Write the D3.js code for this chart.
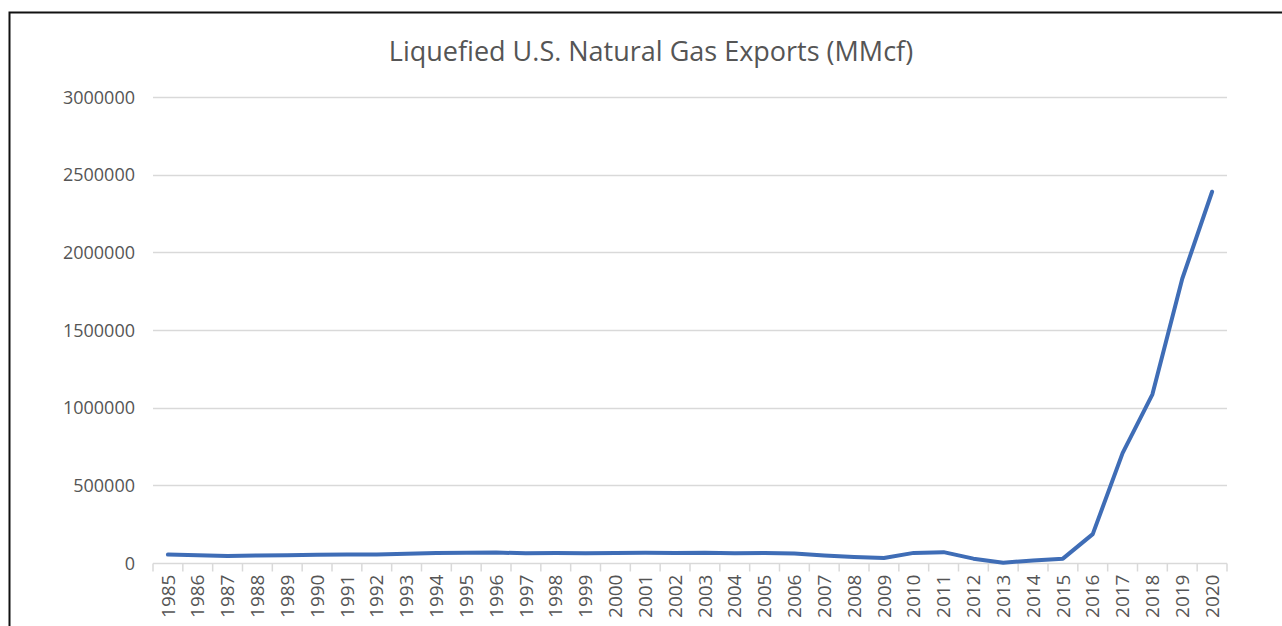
<!DOCTYPE html>
<html>
<head>
<meta charset="utf-8">
<script src="https://cdn.jsdelivr.net/npm/d3@7"></script>
<style>
  body { margin: 0; background: #fff; }
  svg { display: block; }
  text { font-family: "Open Sans", sans-serif; fill: #555; }
</style>
</head>
<body>
<svg id="chart" width="1282" height="626"></svg>
<script>
// chart data
var years = ["1985","1986","1987","1988","1989","1990","1991","1992","1993","1994",
  "1995","1996","1997","1998","1999","2000","2001","2002","2003","2004","2005",
  "2006","2007","2008","2009","2010","2011","2012","2013","2014","2015","2016",
  "2017","2018","2019","2020"];
var lngExports = [54000, 50000, 45000, 49000, 50000, 53000, 54000, 55000, 59000, 64000,
  66000, 67000, 63000, 65000, 63000, 65000, 66000, 64000, 66000, 62000, 65000,
  61000, 48000, 39000, 32000, 65000, 70000, 28000, 2000, 16000, 28000, 186000,
  707000, 1086000, 1830000, 2390000];
var yTicks = [0, 500000, 1000000, 1500000, 2000000, 2500000, 3000000];
var title = "Liquefied U.S. Natural Gas Exports (MMcf)";

var svg = d3.select("#chart");
var plotLeft = 153, plotRight = 1227, plotTop = 97, plotBottom = 563;

// frame
svg.append("rect")
    .attr("x", 9.5).attr("y", 12.5)
    .attr("width", 1290).attr("height", 640)
    .attr("fill", "none")
    .attr("stroke", "#111")
    .attr("stroke-width", 2);

var x = d3.scaleBand().domain(years).range([plotLeft, plotRight]);
var y = d3.scaleLinear().domain([0, 3000000]).range([plotBottom, plotTop]);

// gridlines
svg.append("g").selectAll("line.grid").data(yTicks.slice(1)).enter().append("line")
    .classed("grid", true)
    .attr("x1", plotLeft).attr("x2", plotRight)
    .attr("y1", function(d) { return Math.round(y(d)) + 0.5; })
    .attr("y2", function(d) { return Math.round(y(d)) + 0.5; })
    .attr("stroke", "#d9d9d9")
    .attr("stroke-width", 1.5);

// y labels
var yAxis = svg.append("g")
    .attr("transform", "translate(" + (plotLeft - 18) + ",0)")
    .call(d3.axisLeft(y).tickValues(yTicks).tickSize(0).tickPadding(0)
      .tickFormat(function(d) { return String(d); }));
yAxis.select(".domain").remove();
yAxis.selectAll("text")
    .attr("font-family", null)
    .style("font-size", "18px")
    .attr("fill", "#555")
    .attr("dy", "0.35em");

// x axis with ticks between categories
var xg = svg.append("g").attr("transform", "translate(0," + (plotBottom + 0.5) + ")");
xg.append("line")
    .attr("x1", plotLeft).attr("x2", plotRight)
    .attr("stroke", "#d9d9d9").attr("stroke-width", 1.5);
var bounds = years.map(function(d) { return x(d); }).concat([plotRight]);
xg.selectAll("line.tick").data(bounds).enter().append("line")
    .classed("tick", true)
    .attr("x1", function(d) { return d; }).attr("x2", function(d) { return d; })
    .attr("y1", 0).attr("y2", 8)
    .attr("stroke", "#d9d9d9").attr("stroke-width", 1.5);
xg.selectAll("text").data(years).enter().append("text")
    .attr("transform", function(d) {
      return "translate(" + (x(d) + x.bandwidth() / 2) + ",11) rotate(-90)";
    })
    .attr("text-anchor", "end")
    .attr("dy", "0.35em")
    .style("font-size", "19px")
    .text(function(d) { return d; });

// series line
var line = d3.line()
    .x(function(d, i) { return x(years[i]) + x.bandwidth() / 2; })
    .y(function(d) { return y(d); });
svg.append("path")
    .datum(lngExports)
    .attr("d", line)
    .attr("fill", "none")
    .attr("stroke", "#3f6db6")
    .attr("stroke-width", 4)
    .attr("stroke-linejoin", "round")
    .attr("stroke-linecap", "round");

// title
svg.append("text")
    .attr("x", 651).attr("y", 61)
    .attr("text-anchor", "middle")
    .style("font-size", "27px")
    .attr("fill", "#404040")
    .text(title);
</script>
</body>
</html>
